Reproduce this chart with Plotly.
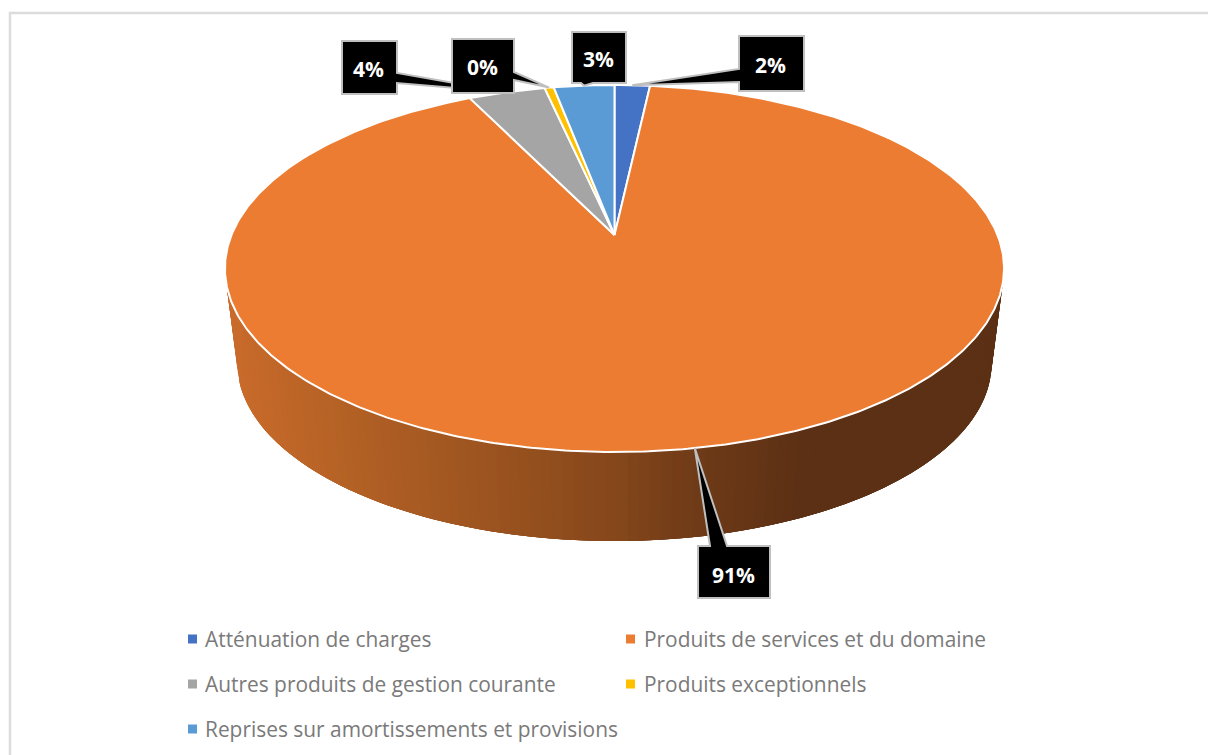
import numpy as np
import plotly.graph_objects as go

CATEGORIES = ["Atténuation de charges", "Produits de services et du domaine",
              "Autres produits de gestion courante", "Produits exceptionnels",
              "Reprises sur amortissements et provisions"]
SHARES = [1.75, 91.0, 3.8, 0.45, 3.0]
LABELS = ["2%", "91%", "4%", "0%", "3%"]
COLORS = ["#4472C4", "#EB7C31", "#A5A5A5", "#FFC000", "#5B9BD5"]

W, H = 1208, 755
APEX_X, APEX_Y = 614.5, 235.0
PERSP = 0.1826
RAD_X, RAD_Y = 383.0, 177.4
BASE_SCALE, BASE_Y = 0.968, 331.0
TEXT = "#7A7A7A"
FONT = "Open Sans"

total = sum(SHARES)
edges = np.concatenate([[0], np.cumsum(SHARES)]) / total * 2 * np.pi


def rim(theta, scale=1.0, cy=APEX_Y):
    d = 1 + PERSP * np.cos(theta)
    return (APEX_X + scale * RAD_X * np.sin(theta) / d,
            cy - scale * RAD_Y * np.cos(theta) / d)


def wall_color(x):
    xs = [230, 370, 614, 700, 800]
    r = np.interp(x, xs, [201, 176, 134, 110, 92])
    g = np.interp(x, xs, [107, 95, 71, 58, 48])
    b = np.interp(x, xs, [43, 36, 27, 23, 20])
    return f"rgb({r:.0f},{g:.0f},{b:.0f})"


fig = go.Figure()

# Outer wall of the biggest slice, shaded by overlapping strips (later strips paint over earlier seams)
big = int(np.argmax(SHARES))
wall = np.linspace(edges[big], edges[big + 1], 241)
for k in range(len(wall) - 1):
    t = wall[k:k + 5]
    xt, yt = rim(t)
    xb, yb = rim(t[::-1], BASE_SCALE, BASE_Y)
    c = wall_color((xt[0] + xt[1] + xb[-1] + xb[-2]) / 4)
    fig.add_trace(go.Scatter(x=np.r_[xt, xb], y=np.r_[yt, yb], mode="lines", fill="toself",
                             fillcolor=c, line=dict(width=0),
                             hoverinfo="skip", showlegend=False))

# Top face
for i, name in enumerate(CATEGORIES):
    t = np.linspace(edges[i], edges[i + 1], max(8, int(SHARES[i] * 6)))
    xs, ys = rim(t)
    fig.add_trace(go.Scatter(x=np.r_[APEX_X, xs, APEX_X], y=np.r_[APEX_Y, ys, APEX_Y],
                             mode="lines", fill="toself", fillcolor=COLORS[i],
                             line=dict(color="white", width=2), name=name,
                             text=f"{name}: {LABELS[i]}", hoverinfo="text", showlegend=False))

# Legend swatches and entries
COLS = [(192.5, 205), (630.5, 644)]
ROWS = [639, 684, 729]
for i, name in enumerate(CATEGORIES):
    col, row = COLS[i % 2], ROWS[i // 2]
    fig.add_trace(go.Scatter(x=[col[0]], y=[row], mode="markers", name=name,
                             marker=dict(symbol="square", size=9, color=COLORS[i]),
                             hoverinfo="name", showlegend=False))
    fig.add_annotation(x=col[1], y=row, text=name, showarrow=False, xanchor="left", yanchor="middle",
                       xshift=-2, font=dict(family=FONT, size=20.9, color=TEXT))

# Callouts: box (x0, y0, x1, y1), side carrying the leader, leader base along that side
BOXES = [(739, 36, 804, 91, "left", 69, 82),
         (698, 546, 770, 598, "top", 710, 727),
         (342, 41, 397, 94, "right", 73, 83),
         (452, 39, 514, 93, "right", 72, 80),
         (572, 32, 626, 83, "bottom", 581, 593)]
shapes = []
for i, (x0, y0, x1, y1, side, p, q) in enumerate(BOXES):
    tx, ty = rim((edges[i] + edges[i + 1]) / 2)
    if side == "left":
        pts = [(x0, y0), (x1, y0), (x1, y1), (x0, y1), (x0, q), (tx, ty), (x0, p)]
    elif side == "right":
        pts = [(x0, y0), (x1, y0), (x1, p), (tx, ty), (x1, q), (x1, y1), (x0, y1)]
    elif side == "top":
        pts = [(x0, y0), (p, y0), (tx, ty), (q, y0), (x1, y0), (x1, y1), (x0, y1)]
    else:
        pts = [(x0, y0), (x1, y0), (x1, y1), (q, y1), (tx, ty), (p, y1), (x0, y1)]
    path = "M " + " L ".join(f"{a:.1f},{b:.1f}" for a, b in pts) + " Z"
    shapes.append(dict(type="path", path=path, fillcolor="black",
                       line=dict(color="#BFBFBF", width=2), layer="above"))
    fig.add_annotation(x=(x0 + x1) / 2 - 1, y=(y0 + y1) / 2 + (2.5 if side == "top" else 1),
                       text=f"<b>{LABELS[i]}</b>", showarrow=False,
                       font=dict(family=FONT, size=21, color="white"))

# Chart frame
shapes.append(dict(type="rect", x0=10, y0=13, x1=W + 10, y1=H + 10, line=dict(color="#DCDCDC", width=2.5),
                   fillcolor="rgba(0,0,0,0)", layer="below"))

fig.update_layout(width=W, height=H, margin=dict(l=0, r=0, t=0, b=0), paper_bgcolor="white",
                  plot_bgcolor="white", showlegend=False, shapes=shapes,
                  xaxis=dict(range=[0, W], visible=False, fixedrange=True),
                  yaxis=dict(range=[H, 0], visible=False, fixedrange=True))

fig.write_html("out.html", config=dict(displayModeBar=False),
               post_script="document.body.style.margin='0';document.body.style.overflow='hidden';")
